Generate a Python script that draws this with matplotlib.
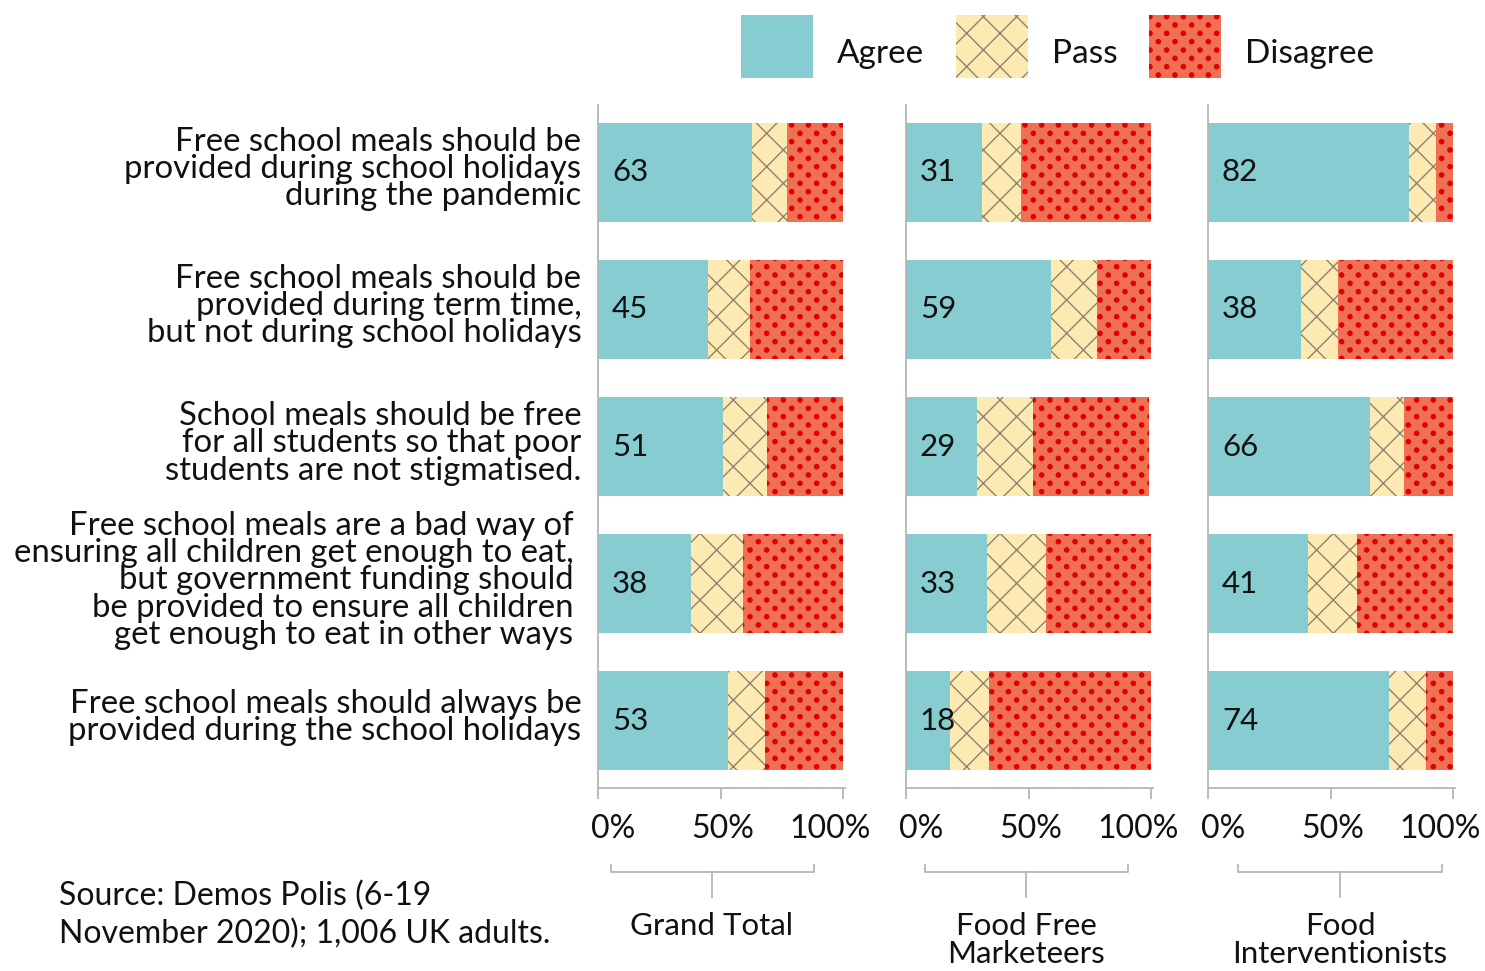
import matplotlib
matplotlib.use('Agg')
import matplotlib.pyplot as plt
import matplotlib.hatch as mhatch
from matplotlib.path import Path
from matplotlib.patches import Patch
from matplotlib.lines import Line2D
import matplotlib.transforms as mtransforms
import numpy as np

# ---------------- data ----------------
statements = [
    "Free school meals should be\nprovided during school holidays\nduring the pandemic",
    "Free school meals should be\nprovided during term time,\nbut not during school holidays",
    "School meals should be free\nfor all students so that poor\nstudents are not stigmatised.",
    "Free school meals are a bad way of\nensuring all children get enough to eat,\nbut government funding should\nbe provided to ensure all children\nget enough to eat in other ways",
    "Free school meals should always be\nprovided during the school holidays",
]
groups = ["Grand Total", "Food Free\nMarketeers", "Food\nInterventionists"]
series_names = ["Agree", "Pass", "Disagree"]

agree_total = [63, 45, 51, 38, 53]
pass_total = [14, 17, 18, 21, 15]
disagree_total = [23, 38, 31, 41, 32]

agree_ffm = [31, 59, 29, 33, 18]
pass_ffm = [16, 19, 23, 24, 16]
disagree_ffm = [53, 22, 47, 43, 66]

agree_fi = [82, 38, 66, 41, 74]
pass_fi = [11, 15, 14, 20, 15]
disagree_fi = [7, 47, 20, 39, 11]

tick_values = [0, 50, 100]
tick_labels = ["0%", "50%", "100%"]
source_text = "Source: Demos Polis (6-19\nNovember 2020); 1,006 UK adults."

panel_data = [
    (agree_total, pass_total, disagree_total),
    (agree_ffm, pass_ffm, disagree_ffm),
    (agree_fi, pass_fi, disagree_fi),
]


# ---------------- dotted hatch: staggered (diagonal) dot lattice ----------------
class DiagDots(mhatch.HatchPatternBase):
    radius = 0.021

    def __init__(self, hatch, density):
        self.n = hatch.count('.')
        circ = Path.unit_circle()
        self.sv = circ.vertices
        self.sc = circ.codes
        if self.n == 0:
            self.num_vertices = 0
        else:
            self.cols = 6 * self.n
            self.rows = 12 * self.n
            n_even = self.rows // 2 + 1
            n_odd = self.rows // 2
            self.num_shapes = n_even * (self.cols + 1) + n_odd * self.cols
            self.num_vertices = self.num_shapes * len(self.sv)

    def set_vertices_and_codes(self, vertices, codes):
        sv = self.sv * self.radius
        vp, cp = [], []
        for row in range(self.rows + 1):
            if row % 2 == 0:
                cols = np.linspace(0, 1, self.cols + 1)
            else:
                cols = np.linspace(0.5 / self.cols, 1 - 0.5 / self.cols, self.cols)
            yy = row / self.rows
            for c in cols:
                vp.append(sv + [c, yy])
                cp.append(self.sc)
        np.concatenate(vp, out=vertices)
        np.concatenate(cp, out=codes)


mhatch._hatch_types = [DiagDots if t is mhatch.SmallFilledCircles else t
                       for t in mhatch._hatch_types]

# ---------------- style ----------------
FONT = "Lato"
plt.rcParams['font.family'] = [FONT, 'DejaVu Sans']
plt.rcParams['hatch.linewidth'] = 1.0
c_agree = "#87CCD0"
c_pass = "#FDEAB2"
c_pass_hatch = "#8C8470"
c_dis = "#F07055"
c_dis_hatch = "#E00000"
spine_c = "#B5B5B5"
txt_c = "#111111"

W, H = 1485, 971
fig = plt.figure(figsize=(W / 100, H / 100), dpi=100)


def fx(px):
    return px / W


def fy(py):
    return 1 - py / H


panel_left_px = [598, 906, 1208]
panel_w_px = 245
ax_top_px, ax_bot_px = 105, 788

axes = []
y = np.arange(len(statements))
for k, (lp, (ag, ps, ds)) in enumerate(zip(panel_left_px, panel_data)):
    ax = fig.add_axes([fx(lp), 1 - ax_bot_px / H, panel_w_px / W,
                       (ax_bot_px - ax_top_px) / H])
    ag = np.array(ag); ps = np.array(ps); ds = np.array(ds)
    ax.barh(y, ag, height=0.72, color=c_agree, linewidth=0)
    ax.barh(y, ps, left=ag, height=0.72, color=c_pass, edgecolor=c_pass_hatch,
            linewidth=0, hatch='x')
    ax.barh(y, ds, left=ag + ps, height=0.72, color=c_dis,
            edgecolor=c_dis_hatch, linewidth=0, hatch='.')
    ax.set_xlim(0, 100)
    ax.set_ylim(len(statements) - 0.51, -0.49)
    for s in ['top', 'right']:
        ax.spines[s].set_visible(False)
    for s in ['left', 'bottom']:
        ax.spines[s].set_color(spine_c)
        ax.spines[s].set_linewidth(1.3)
    ax.spines['bottom'].set_bounds(0, 100.8)
    ax.set_xticks(tick_values)
    ax.set_xticklabels([])
    ax.tick_params(axis='x', length=8, color=spine_c, width=1.3, direction='out')
    if k == 0:
        ax.set_yticks(y)
        ax.set_yticklabels(statements, fontsize=23.7, color=txt_c,
                           linespacing=0.89)
        ax.tick_params(axis='y', length=0, pad=12)
        for i, lab in enumerate(ax.get_yticklabels()):
            dx = -0.08 if i == 3 else 0
            lab.set_transform(lab.get_transform() +
                              mtransforms.ScaledTranslation(dx, 0.05, fig.dpi_scale_trans))
    else:
        ax.set_yticks([])
    # value labels
    for i, v in enumerate(ag):
        ax.annotate(str(v), xy=(0, i), xytext=(10, 0), textcoords='offset points',
                    ha='left', va='center', fontsize=22.5, color=txt_c)
    # custom positioned tick labels
    offs = [15, 2, -12.5]
    for v, lab, o in zip(tick_values, tick_labels, offs):
        tr = mtransforms.blended_transform_factory(ax.transData, ax.transAxes) + \
            mtransforms.ScaledTranslation(o / 100, 0, fig.dpi_scale_trans)
        ax.text(v, -41 / (ax_bot_px - ax_top_px), lab, transform=tr,
                ha='center', va='center', fontsize=23, color=txt_c)
    axes.append(ax)

# brackets and group labels
brackets = [(611, 814, 712), (925, 1128, 1026), (1238, 1442, 1340)]
for (x0, x1, xc), g in zip(brackets, groups):
    fig.add_artist(Line2D([fx(x0), fx(x0), fx(x1), fx(x1)],
                          [fy(865), fy(872), fy(872), fy(865)],
                          transform=fig.transFigure, color=spine_c, lw=1.3))
    fig.add_artist(Line2D([fx(xc), fx(xc)], [fy(872), fy(897)],
                          transform=fig.transFigure, color=spine_c, lw=1.3))
    fig.text(fx(xc), fy(912), g, ha='center', va='top', fontsize=22.5,
             color=txt_c, linespacing=1.0)

# source
fig.text(fx(59), fy(915), source_text, ha='left', va='center', fontsize=23,
         color=txt_c, linespacing=1.3)

# legend
handles = [
    Patch(facecolor=c_agree, edgecolor=c_agree, linewidth=0),
    Patch(facecolor=c_pass, edgecolor=c_pass_hatch, linewidth=0, hatch='x'),
    Patch(facecolor=c_dis, edgecolor=c_dis_hatch, linewidth=0, hatch='.'),
]
leg = fig.legend(handles, series_names, loc='upper left',
                 bbox_to_anchor=(fx(741), fy(15)), ncol=3, frameon=False,
                 fontsize=24, handlelength=2.16, handleheight=2.53,
                 handletextpad=0.72, columnspacing=0.95, borderpad=0,
                 borderaxespad=0)
for t in leg.get_texts():
    t.set_color(txt_c)
    t.set_y(-6)

fig.savefig("out.png", dpi=100)
